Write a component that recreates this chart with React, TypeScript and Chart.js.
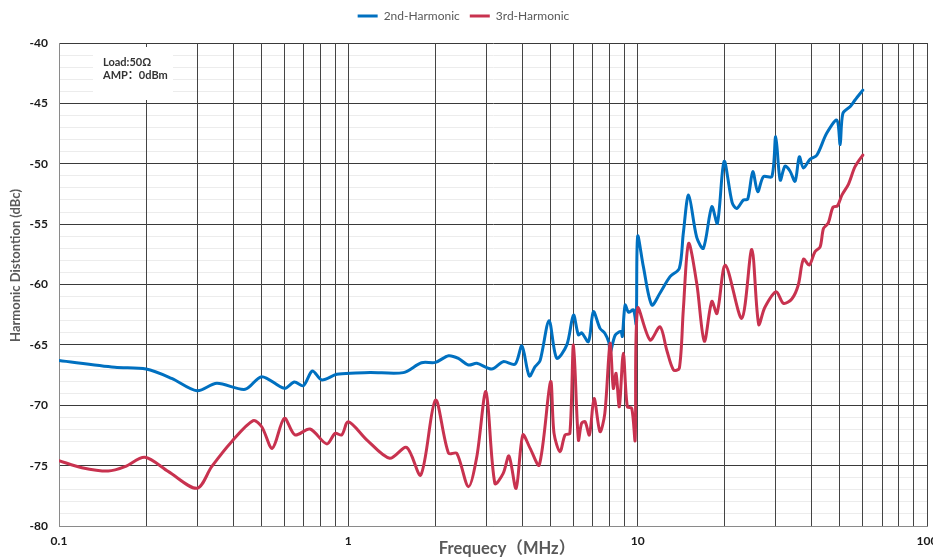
import React, { useEffect, useRef } from 'react';
import { Chart, registerables } from 'chart.js';

Chart.register(...registerables);

// ---- data ----
const seriesNames = ['2nd-Harmonic', '3rd-Harmonic'];
const seriesColors = ['#0070C0', '#C8324F'];

const xTickValues = [
  0.1, 0.2, 0.3, 0.4, 0.5, 0.6, 0.7, 0.8, 0.9,
  1, 2, 3, 4, 5, 6, 7, 8, 9,
  10, 20, 30, 40, 50, 60, 70, 80, 90, 100,
];
const xLabelValues = [0.1, 1, 10, 100];
const xTickLabels = ['0.1', '1', '10', '100'];

const yMin = -80;
const yMax = -40;

const harmonic2Freq = [
  0.1, 0.156, 0.2, 0.245, 0.3, 0.351, 0.44, 0.502, 0.601, 0.651, 0.699, 0.751, 0.809, 0.912,
  1.06, 1.19, 1.55, 1.79, 2.0, 2.22, 2.4, 2.6, 2.78, 3.13, 3.43, 3.77, 3.98, 4.22, 4.42, 4.6,
  4.94, 5.25, 5.69, 6.0, 6.24, 6.4, 6.76, 7.03, 7.41, 7.7, 7.95, 8.03, 8.36, 8.75, 8.85, 9.05,
  9.3, 9.67, 9.88, 10.0, 10.46, 11.19, 11.95, 12.94, 13.93, 14.38, 15.0, 16.0, 16.87, 18.04,
  18.86, 19.9, 21.2, 22.0, 23.2, 24.0, 25.0, 26.0, 27.2, 29.1, 30.0, 31.1, 32.3, 33.6, 35.0,
  36.2, 37.4, 39.4, 41.6, 45.0, 48.8, 50.1, 51.2, 54.2, 56.4, 60.0,
];
const harmonic2Db = [
  -66.3, -66.86, -67.0, -67.77, -68.8, -68.18, -68.68, -67.63, -68.6, -68.07, -68.38, -67.16, -67.9, -67.44,
  -67.33, -67.28, -67.3, -66.48, -66.45, -65.9, -66.12, -66.67, -66.53, -67.0, -66.39, -66.6, -65.09, -67.58, -66.81, -66.3,
  -63.0, -66.1, -65.0, -62.53, -64.18, -64.0, -64.73, -62.25, -63.63, -64.04, -64.8, -65.7, -64.2, -63.9, -64.3, -61.7,
  -62.3, -62.1, -63.3, -56.0, -58.5, -61.7, -60.7, -59.35, -58.66, -55.76, -52.6, -56.1, -57.0, -53.56,
  -54.93, -49.8, -53.2, -53.7, -53.0, -52.95, -50.66, -52.31, -51.07, -51.07, -47.76, -51.35, -50.2, -50.6, -51.45,
  -49.42, -50.35, -49.64, -49.3, -47.48, -46.38, -48.4, -45.83, -45.28, -44.72, -43.9,
];

const harmonic3Freq = [
  0.1, 0.12, 0.148, 0.169, 0.198, 0.239, 0.3, 0.337, 0.395, 0.469, 0.502, 0.546, 0.601, 0.654,
  0.737, 0.842, 0.9, 0.949, 1.0, 1.16, 1.39, 1.59, 1.78, 2.0, 2.22, 2.37, 2.6, 2.78, 2.99, 3.21,
  3.43, 3.59, 3.8, 4.01, 4.25, 4.57, 5.0, 5.14, 5.39, 5.61, 5.83, 6.0, 6.24, 6.4, 6.58, 6.81,
  7.07, 7.41, 7.7, 8.03, 8.24, 8.42, 8.64, 8.92, 9.21, 9.54, 9.8, 10.0, 11.04, 11.95, 12.6,
  13.3, 13.93, 14.38, 15.0, 16.0, 17.0, 18.04, 18.8, 20.1, 22.9, 24.8, 26.2, 27.5, 30.1, 31.9,
  34.1, 35.9, 37.4, 39.2, 41.0, 42.7, 43.9, 45.6, 47.3, 49.0, 50.8, 53.5, 56.4, 60.0,
];
const harmonic3Db = [
  -74.59, -75.17, -75.45, -75.09, -74.31, -75.5, -76.88, -75.09, -73.02, -71.28, -71.78, -73.57, -71.08, -72.46,
  -71.97, -73.2, -72.33, -72.46, -71.36, -72.88, -74.39, -73.49, -75.78, -69.57, -73.98, -73.98, -76.74, -74.26, -68.88, -76.47,
  -75.64, -74.2, -76.88, -72.46, -73.57, -74.95, -68.05, -72.33, -73.85, -72.46, -72.33, -65.0, -72.88, -71.5, -71.36, -72.46,
  -69.44, -72.19, -70.67, -64.87, -68.6, -67.36, -70.12, -65.7, -70.12, -70.25, -72.9, -61.97, -64.6, -63.5, -65.42,
  -67.08, -66.94, -62.1, -56.6, -59.9, -64.7, -61.4, -62.4, -58.4, -62.8, -57.1, -63.3, -61.9, -60.6, -61.56,
  -61.2, -60.04, -57.9, -58.39, -57.28, -56.9, -55.35, -54.9, -53.6, -53.5, -52.6, -51.7, -50.24, -49.28,
];

const noteLines = ['Load:50Ω', 'AMP：0dBm'];
const xTitle = 'Frequecy（MHz）';
const yTitle = 'Harmonic Distontion (dBc)';

const FONT = 'Lato, "Noto Sans CJK SC", sans-serif';
const LEGEND_SHIFT = 11;

const notePlugin = {
  id: 'notePlugin',
  afterLayout(chart: any) {
    // keep the legend at the very top while the plot area starts lower
    if (chart.legend) {
      chart.legend.top -= LEGEND_SHIFT;
      chart.legend.bottom -= LEGEND_SHIFT;
    }
  },
  beforeDatasetsDraw(chart: any) {
    const { ctx, chartArea } = chart;
    ctx.save();
    ctx.fillStyle = '#ffffff';
    ctx.fillRect(chartArea.left + 34, chartArea.top + 4, 80, 53);
    ctx.fillStyle = '#333333';
    ctx.font = `bold 11px ${FONT}`;
    ctx.textAlign = 'left';
    ctx.textBaseline = 'middle';
    noteLines.forEach((t, i) => ctx.fillText(t, chartArea.left + 44, chartArea.top + 19 + i * 13));
    ctx.restore();
  },
  afterDraw(chart: any) {
    const { ctx, chartArea } = chart;
    ctx.save();
    ctx.fillStyle = '#595959';
    ctx.font = `bold 16.5px ${FONT}`;
    ctx.textAlign = 'center';
    ctx.textBaseline = 'middle';
    ctx.fillText(xTitle, (chartArea.left + chartArea.right) / 2 + 14, chartArea.bottom + 23);
    ctx.translate(16, (chartArea.top + chartArea.bottom) / 2 - 19);
    ctx.rotate(-Math.PI / 2);
    ctx.font = `bold 13px ${FONT}`;
    ctx.fillText(yTitle, 0, 0);
    ctx.restore();
  },
};

export default function App() {
  const canvasRef = useRef<HTMLCanvasElement | null>(null);

  useEffect(() => {
    const canvas = canvasRef.current;
    if (!canvas) return;
    const chart = new Chart(canvas, {
      type: 'line',
      data: {
        datasets: [
          {
            label: seriesNames[0],
            data: harmonic2Freq.map((f, i) => ({ x: f, y: harmonic2Db[i] })),
            borderColor: seriesColors[0],
            backgroundColor: seriesColors[0],
            borderWidth: 3,
            pointRadius: 0,
            tension: 0.3,
            fill: false,
            order: 1,
            borderJoinStyle: 'round',
            borderCapStyle: 'round',
          },
          {
            label: seriesNames[1],
            data: harmonic3Freq.map((f, i) => ({ x: f, y: harmonic3Db[i] })),
            borderColor: seriesColors[1],
            backgroundColor: seriesColors[1],
            borderWidth: 3,
            pointRadius: 0,
            tension: 0.3,
            fill: false,
            order: 0,
            borderJoinStyle: 'round',
            borderCapStyle: 'round',
          },
        ],
      },
      options: {
        animation: false,
        responsive: true,
        maintainAspectRatio: false,
        layout: { padding: { top: LEGEND_SHIFT, right: 6, left: 0, bottom: 0 } },
        plugins: {
          tooltip: { enabled: false },
          legend: {
            display: true,
            position: 'top',
            labels: {
              boxWidth: 20,
              boxHeight: 3,
              padding: 10,
              color: '#595959',
              font: { family: FONT, size: 12 },
              generateLabels: (c: any) =>
                c.data.datasets.map((ds: any, i: number) => ({
                  text: ds.label,
                  fillStyle: ds.borderColor,
                  strokeStyle: ds.borderColor,
                  lineWidth: 0,
                  hidden: false,
                  datasetIndex: i,
                  fontColor: '#595959',
                })),
            },
          },
        },
        scales: {
          x: {
            type: 'logarithmic',
            min: 0.1,
            max: 100,
            afterBuildTicks: (s: any) => {
              s.ticks = xTickValues.map((v) => ({ value: v }));
            },
            ticks: {
              autoSkip: false,
              maxRotation: 0,
              padding: 8,
              color: '#1a1a1a',
              font: { family: FONT, size: 12, weight: 'bold' },
              callback: (v: any) => {
                const idx = xLabelValues.findIndex((lv) => Math.abs(lv - Number(v)) < 1e-9);
                return idx >= 0 ? xTickLabels[idx] : '';
              },
            },
            grid: { color: '#444444', lineWidth: 1, drawTicks: false, z: -1 },
            border: { color: '#8a8a8a', width: 1 },
            afterFit: (s: any) => {
              s.height = 32;
              s.paddingLeft = 0;
              s.paddingRight = 0;
            },
          },
          y: {
            min: yMin,
            max: yMax,
            ticks: {
              stepSize: 1,
              autoSkip: false,
              padding: 11,
              color: '#1a1a1a',
              font: { family: FONT, size: 12, weight: 'bold' },
              callback: (v: any) => (Number(v) % 5 === 0 ? String(v) : ''),
            },
            grid: {
              color: (ctx: any) =>
                ctx.tick && Math.round(ctx.tick.value) % 5 === 0 ? '#3a3a3a' : '#ececec',
              lineWidth: 1,
              drawTicks: false,
              z: -2,
            },
            border: { color: '#8a8a8a', width: 1 },
            afterFit: (s: any) => {
              s.width = 59;
            },
          },
        },
      },
      plugins: [notePlugin],
    } as any);
    return () => chart.destroy();
  }, []);

  return (
    <div style={{ position: 'absolute', left: 0, top: 0, width: 933, height: 558 }}>
      <canvas ref={canvasRef} />
    </div>
  );
}
